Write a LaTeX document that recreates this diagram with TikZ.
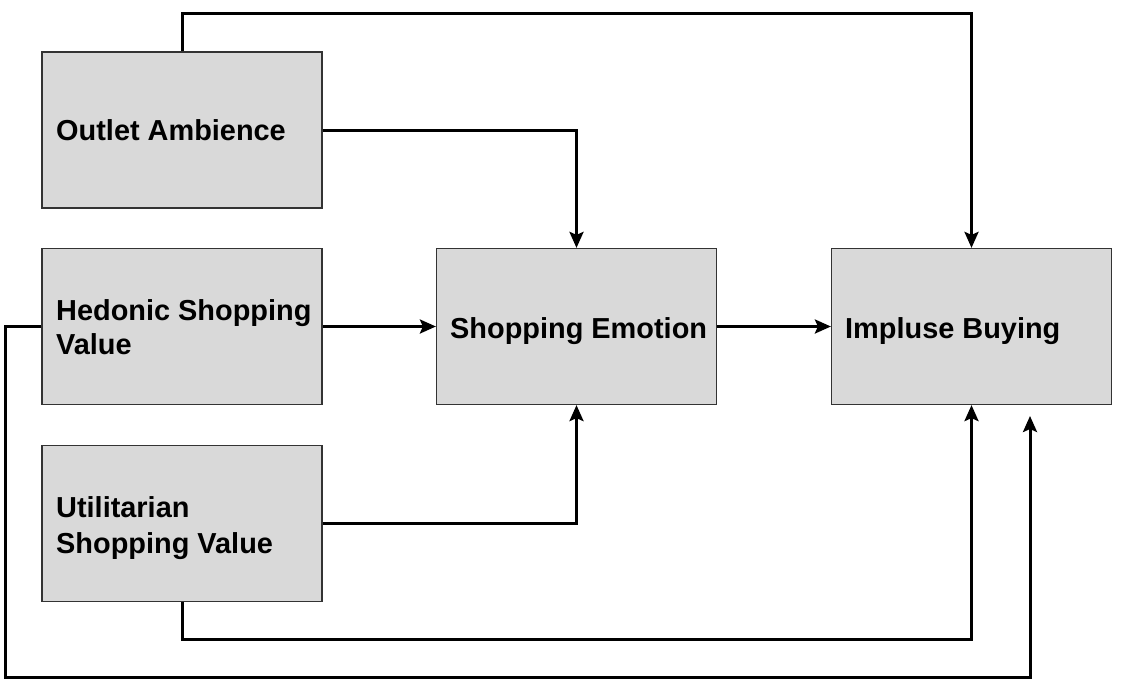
\documentclass[tikz,border=0pt]{standalone}
\usepackage{fontspec}
\setmainfont{Liberation Sans}
\usetikzlibrary{arrows.meta}
\begin{document}
\begin{tikzpicture}[x=1pt,y=-1pt,
  box/.style={draw=black!80,line width=1.2pt,fill=black!15,minimum width=280pt,minimum height=156pt,inner sep=0pt},
  lbl/.style={anchor=base west,inner sep=0pt,font=\fontsize{28.9}{35}\selectfont\bfseries},
  conn/.style={line width=3pt,line join=miter,-{Stealth[length=16pt,width=14pt,inset=3pt]}}]
\useasboundingbox (0,0) rectangle (1131,682);
\node[box] (OA)  at (182,130)   {};
\node[box] (HSV) at (182,326.5) {};
\node[box] (USV) at (182,523.5) {};
\node[box] (SE)  at (576.5,326.5) {};
\node[box] (IB)  at (971.5,326.5) {};
\node[lbl] (OAt)  at (56,140) {Outlet Ambience};
\node[lbl] (HSVa) at (56,320) {Hedonic Shopping};
\node[lbl] (HSVb) at (56,354) {Value};
\node[lbl] (USVa) at (56,517) {Utilitarian};
\node[lbl] (USVb) at (56,553) {Shopping Value};
\node[lbl] (SEt)  at (450,338) {Shopping Emotion};
\node[lbl] (IBt)  at (845,338) {Impluse Buying};
\coordinate (c1) at (5,677);
\coordinate (endpt) at (1030,416);
\draw[conn] (OA.north) -- ++(0,-38) -| (IB.north);
\draw[conn] (OA.east) -| (SE.north);
\draw[conn] (HSV.east) -- (SE.west);
\draw[conn] (SE.east) -- (IB.west);
\draw[conn] (USV.east) -| (SE.south);
\draw[conn] (USV.south) -- ++(0,37) -| (IB.south);
\draw[conn] (HSV.west) -| (c1) -| (endpt);
\end{tikzpicture}
\end{document}
